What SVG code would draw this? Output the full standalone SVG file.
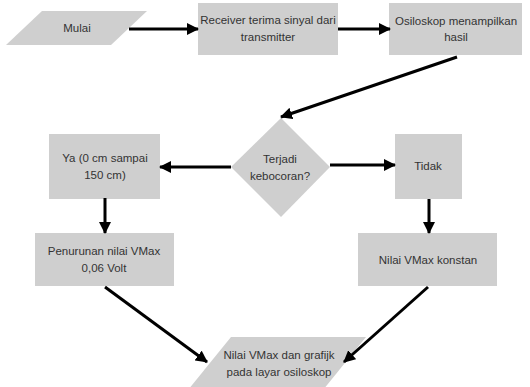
<svg xmlns="http://www.w3.org/2000/svg" width="530" height="387" viewBox="0 0 530 387">
<style>
.shape{fill:#cfcfcf;stroke:none}
.t{font-family:"Liberation Sans",Arial,sans-serif;font-size:11.5px;fill:#333333;text-anchor:middle}
.c{stroke:#000;stroke-width:3;fill:none;marker-end:url(#ah)}
</style>
<defs>
<marker id="ah" markerUnits="userSpaceOnUse" markerWidth="12" markerHeight="12" viewBox="0 0 12 12" refX="11" refY="6" orient="auto">
<path d="M0,0 L12,6 L0,12 Z" fill="#000"/>
</marker>
</defs>
<rect width="530" height="387" fill="#fff"/>
<g id="mulai">
<polygon class="shape" points="42,11 147,11 111,45 6,45"/>
<text class="t" x="77" y="32">Mulai</text>
</g>
<g id="receiver">
<rect class="shape" x="198" y="3" width="140" height="52"/>
<text class="t" x="268" y="24">Receiver terima sinyal dari</text>
<text class="t" x="268" y="41">transmitter</text>
</g>
<g id="osiloskop">
<rect class="shape" x="389" y="3" width="133" height="52"/>
<text class="t" x="456" y="25">Osiloskop menampilkan</text>
<text class="t" x="456" y="41">hasil</text>
</g>
<g id="keputusan">
<polygon class="shape" points="281,118 330,167 281,217 231,167"/>
<text class="t" x="280" y="163">Terjadi</text>
<text class="t" x="280" y="180">kebocoran?</text>
</g>
<g id="ya">
<rect class="shape" x="49" y="134" width="111" height="65"/>
<text class="t" x="105" y="162">Ya (0 cm sampai</text>
<text class="t" x="105" y="179">150 cm)</text>
</g>
<g id="tidak">
<rect class="shape" x="395" y="134" width="67" height="65"/>
<text class="t" x="428" y="170">Tidak</text>
</g>
<g id="penurunan">
<rect class="shape" x="35" y="233" width="139" height="53"/>
<text class="t" x="104" y="255">Penurunan nilai VMax</text>
<text class="t" x="104" y="272">0,06 Volt</text>
</g>
<g id="konstan">
<rect class="shape" x="358" y="233" width="139" height="53"/>
<text class="t" x="428" y="264">Nilai VMax konstan</text>
</g>
<g id="hasil">
<polygon class="shape" points="231,337 366,337 323,390 188,390"/>
<text class="t" x="279" y="359">Nilai VMax dan grafijk</text>
<text class="t" x="279" y="376">pada layar osiloskop</text>
</g>
<g id="connectors">
<line class="c" x1="129" y1="29" x2="198" y2="29"/>
<line class="c" x1="338" y1="29" x2="390" y2="29"/>
<line class="c" x1="457" y1="57" x2="281" y2="117"/>
<line class="c" x1="231" y1="167" x2="160" y2="167"/>
<line class="c" x1="330" y1="165" x2="395" y2="165"/>
<line class="c" x1="105" y1="198" x2="105" y2="233"/>
<line class="c" x1="429" y1="199" x2="429" y2="233"/>
<line class="c" x1="105" y1="287" x2="207" y2="362"/>
<line class="c" x1="428" y1="287" x2="344" y2="362"/>
</g>
</svg>
